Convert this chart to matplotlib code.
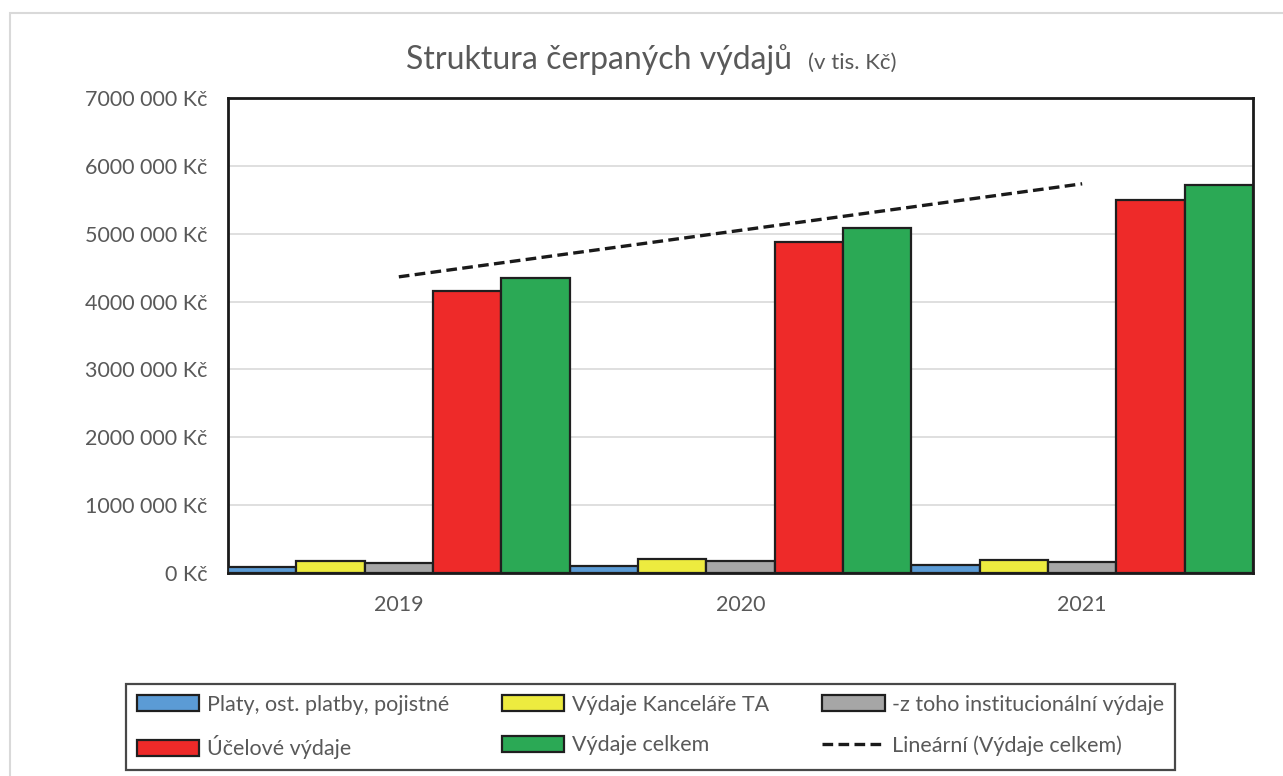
import matplotlib.pyplot as plt
import matplotlib.patches as mpatches
from matplotlib.lines import Line2D
import numpy as np

plt.rcParams['font.family'] = ['Lato', 'DejaVu Sans']

# data (values in Kč)
years = ['2019', '2020', '2021']
platy = [95000, 100000, 120000]
vydaje_kancelare = [170000, 210000, 195000]
institucionalni = [145000, 175000, 165000]
ucelove = [4155000, 4875000, 5500000]
celkem = [4347000, 5085000, 5718000]

series_names = ['Platy, ost. platby, pojistné', 'Výdaje Kanceláře TA',
                '-z toho institucionální výdaje', 'Účelové výdaje', 'Výdaje celkem']
series_colors = ['#5B9BD5', '#EDEB3F', '#A6A6A6', '#EE2A29', '#2BA955']
trend_name = 'Lineární (Výdaje celkem)'

yticks = [0, 1000000, 2000000, 3000000, 4000000, 5000000, 6000000, 7000000]
ytick_labels = ['0 Kč', '1000 000 Kč', '2000 000 Kč', '3000 000 Kč',
                '4000 000 Kč', '5000 000 Kč', '6000 000 Kč', '7000 000 Kč']

W, H = 1283, 776
fig = plt.figure(figsize=(W / 100, H / 100), dpi=100)
txt_col = '#595959'

# outer chart frame
fig.patches.append(mpatches.Rectangle((10 / W, -0.05), 1.2, 1 - 13 / H + 0.05,
                                      transform=fig.transFigure, fill=False,
                                      edgecolor='#d9d9d9', linewidth=1.5))

ax = fig.add_axes([228 / W, 1 - 573 / H, (1253 - 228) / W, (573 - 98) / H])

x = np.arange(len(years))
w = 0.2
all_series = [platy, vydaje_kancelare, institucionalni, ucelove, celkem]
for j, (vals, col) in enumerate(zip(all_series, series_colors)):
    ax.bar(x + (j - 2) * w, vals, width=w, color=col, edgecolor='#1f1f1f',
           linewidth=1.6, zorder=3)

# linear trend of the totals
k, q = np.polyfit(x, celkem, 1)
ax.plot(x, k * x + q, color='#1a1a1a', linewidth=2.4, dashes=(3.2, 1.6), zorder=4)

ax.set_xlim(-0.5, 2.5)
ax.set_ylim(0, 7000000)
ax.set_yticks(yticks)
ax.set_yticklabels(ytick_labels)
ax.set_xticks(x)
ax.set_xticklabels(years)
ax.tick_params(length=0, labelsize=15.5, colors=txt_col)
ax.tick_params(axis='y', pad=15)
ax.tick_params(axis='x', pad=16)
ax.yaxis.grid(True, color='#d9d9d9', linewidth=1.2, zorder=0)
ax.set_axisbelow(True)
for s in ax.spines.values():
    s.set_linewidth(2)
    s.set_color('#1a1a1a')

fig.text(792 / W, 1 - 60 / H, 'Struktura čerpaných výdajů', ha='right', va='center',
         fontsize=23, color=txt_col)
fig.text(808 / W, 1 - 63 / H, '(v tis. Kč)', ha='left', va='center',
         fontsize=16, color=txt_col)

handles = [mpatches.Patch(facecolor=c, edgecolor='#1f1f1f', linewidth=1.6)
           for c in series_colors]
handles.append(Line2D([], [], color='#1a1a1a', linewidth=2.4, dashes=(3.2, 1.6)))
labels = series_names + [trend_name]
order = [0, 3, 1, 4, 2, 5]
leg = fig.legend([handles[i] for i in order], [labels[i] for i in order],
                 loc='lower left', ncol=3, mode='expand', borderaxespad=0,
                 bbox_to_anchor=(126 / W, 1 - 770 / H, (1175 - 126) / W, 90 / H),
                 fontsize=15.5, frameon=True, fancybox=False, handlelength=2.9,
                 handleheight=0.75, handletextpad=0.35, borderpad=0.5,
                 labelspacing=0.95, labelcolor=txt_col)
leg.get_frame().set_edgecolor('#1a1a1a')
leg.get_frame().set_linewidth(1.6)

fig.savefig('out.png', dpi=100)
